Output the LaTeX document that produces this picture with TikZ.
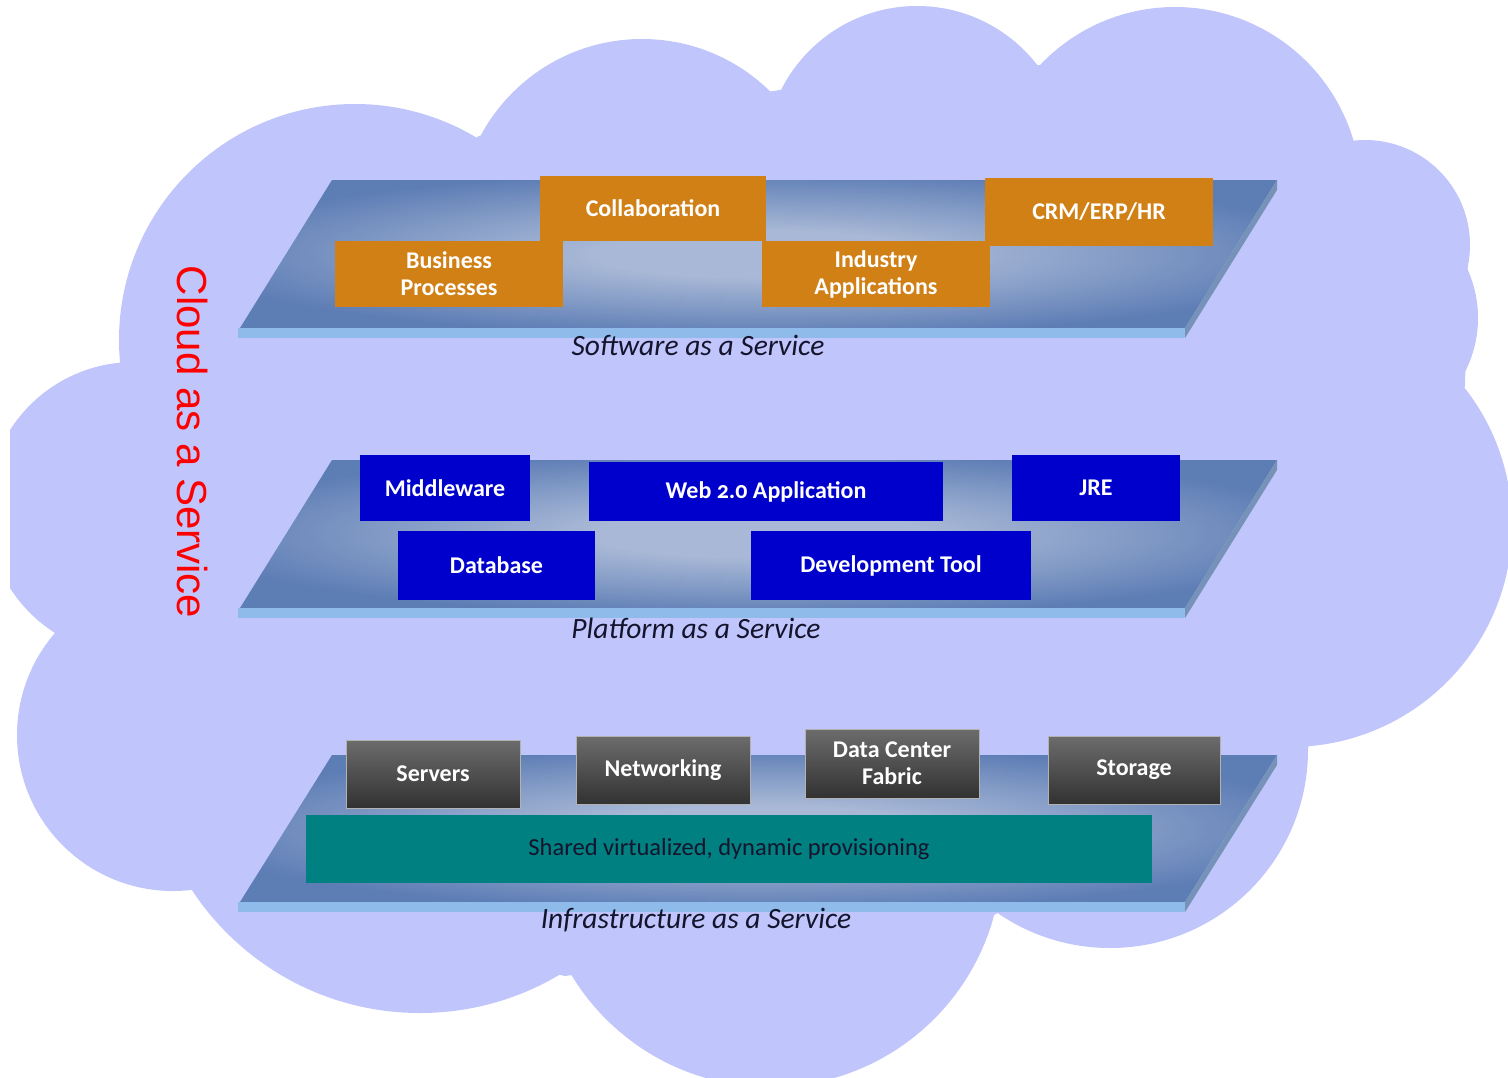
\documentclass[tikz,border=0pt]{standalone}
\usepackage{fontspec}
\setmainfont{Carlito}
\newfontfamily\cloudfont{Liberation Sans}
\usepackage{xcolor}
\usepackage{tikz}
\definecolor{cloudBlue}{RGB}{192,197,251}
\definecolor{saasOrange}{RGB}{209,128,22}
\definecolor{paasBlue}{RGB}{0,0,204}
\definecolor{iaasTeal}{RGB}{0,128,128}
\definecolor{platDark}{RGB}{93,125,181}
\definecolor{platLight}{RGB}{168,184,214}
\definecolor{stripBlue}{RGB}{142,187,233}
\definecolor{sideGray}{RGB}{118,146,184}
\definecolor{grayTop}{RGB}{108,108,108}
\definecolor{grayBot}{RGB}{50,50,50}
\definecolor{labelNavy}{RGB}{20,20,45}
\pgfdeclareradialshading{platshade}{\pgfpoint{0bp}{0bp}}{color(0bp)=(platLight); color(8bp)=(platLight); color(28bp)=(platDark); color(50bp)=(platDark)}
\tikzset{
  boxtext/.style={text=white, inner sep=0pt, align=center, font=\bfseries\fontsize{24}{27}\selectfont},
  saasbox/.style={boxtext, fill=saasOrange},
  paasbox/.style={boxtext, fill=paasBlue},
  iaasbox/.style={boxtext, top color=grayTop, bottom color=grayBot, draw=gray!60, line width=0.8pt},
  layerlabel/.style={text=labelNavy, font=\itshape\fontsize{29.5}{33}\selectfont},
}

\begin{document}
\begin{tikzpicture}[x=1pt, y=-1pt]
  \useasboundingbox (0,0) rectangle (1508,1077);

  % the cloud
  \begin{scope}
    \clip (10,0) rectangle (1508,1077);
    \fill[cloudBlue] (355,340) circle (236pt);
    \fill[cloudBlue] (642,222) circle (183pt);
    \fill[cloudBlue] (917,158) circle (152pt);
    \fill[cloudBlue] (1175,193) circle (186pt);
    \fill[cloudBlue] (1365,245) circle (105pt);
    \fill[cloudBlue] (1360,318) circle (118pt);
    \fill[cloudBlue] (1290,525) circle (222pt);
    \fill[cloudBlue] (1110,750) circle (198pt);
    \fill[cloudBlue] (770,855) circle (232pt);
    \fill[cloudBlue] (420,740) circle (273pt);
    \fill[cloudBlue] (173,735) circle (156pt);
    \fill[cloudBlue] (134,509) circle (147pt);
    \fill[cloudBlue] (121,363) -- (479,136) -- (780,90) -- (1040,65) -- (1340,142) -- (1468,252)
      -- (1465,386) -- (1307,750) -- (992,916) -- (565,976) -- (187,881) -- (57,634) -- cycle;
  \end{scope}

  % the three platforms
  \foreach \ty/\by in {180/328, 460/608, 755/902} {
    \shade[shading=platshade] (332,\ty) -- (1277,\ty) -- (1185,\by) -- (240,\by) -- cycle;
    \fill[stripBlue] (238,\by) rectangle (1185,\by+10);
    \fill[sideGray] (1185,\by) -- (1277,\ty) -- (1277,\ty+10) -- (1185,\by+10) -- cycle;
  }

  \node[rotate=-90, text=red, font=\cloudfont\fontsize{42}{48}\selectfont] (cloudlbl) at (193,442) {Cloud as a Service};

  % software
  \node[saasbox, minimum width=226pt, minimum height=65pt] (collab) at (653,208.5) {Collaboration};
  \node[saasbox, minimum width=228pt, minimum height=66pt] (busproc) at (449,274) {Business\\Processes};
  \node[saasbox, minimum width=228pt, minimum height=68pt] (crm) at (1099,212) {CRM/ERP/HR};
  \node[saasbox, minimum width=228pt, minimum height=66pt] (indapp) at (876,274) {Industry\\Applications};
  \node[layerlabel] (saaslbl) at (698,345) {Software as a Service};

  % platform
  \node[paasbox, minimum width=170pt, minimum height=66pt] (middleware) at (445,488) {Middleware};
  \node[paasbox, minimum width=354pt, minimum height=59pt] (webapp) at (766,491.5) {Web {\addfontfeatures{Numbers=OldStyle}2.0} Application};
  \node[paasbox, minimum width=168pt, minimum height=66pt] (jre) at (1096,488) {JRE};
  \node[paasbox, minimum width=197pt, minimum height=69pt] (database) at (496.5,565.5) {Database};
  \node[paasbox, minimum width=280pt, minimum height=69pt] (devtool) at (891,565.5) {Development Tool};
  \node[layerlabel] (paaslbl) at (696,628) {Platform as a Service};

  % infrastructure
  \node[iaasbox, minimum width=174pt, minimum height=68pt] (servers) at (433,774) {Servers};
  \node[iaasbox, minimum width=174pt, minimum height=68pt] (networking) at (663,770) {Networking};
  \node[iaasbox, minimum width=174pt, minimum height=69pt] (dcfabric) at (892,763.5) {Data Center\\Fabric};
  \node[iaasbox, minimum width=172pt, minimum height=68pt] (storage) at (1134,770) {Storage};
  \node[fill=iaasTeal, text=labelNavy, inner sep=0pt, minimum width=846pt, minimum height=68pt,
    font=\fontsize{24.5}{27}\selectfont] (shared) at (729,849) {Shared virtualized, dynamic provisioning};
  \node[layerlabel] (iaaslbl) at (696,920) {Infrastructure as a Service};

\end{tikzpicture}
\end{document}
